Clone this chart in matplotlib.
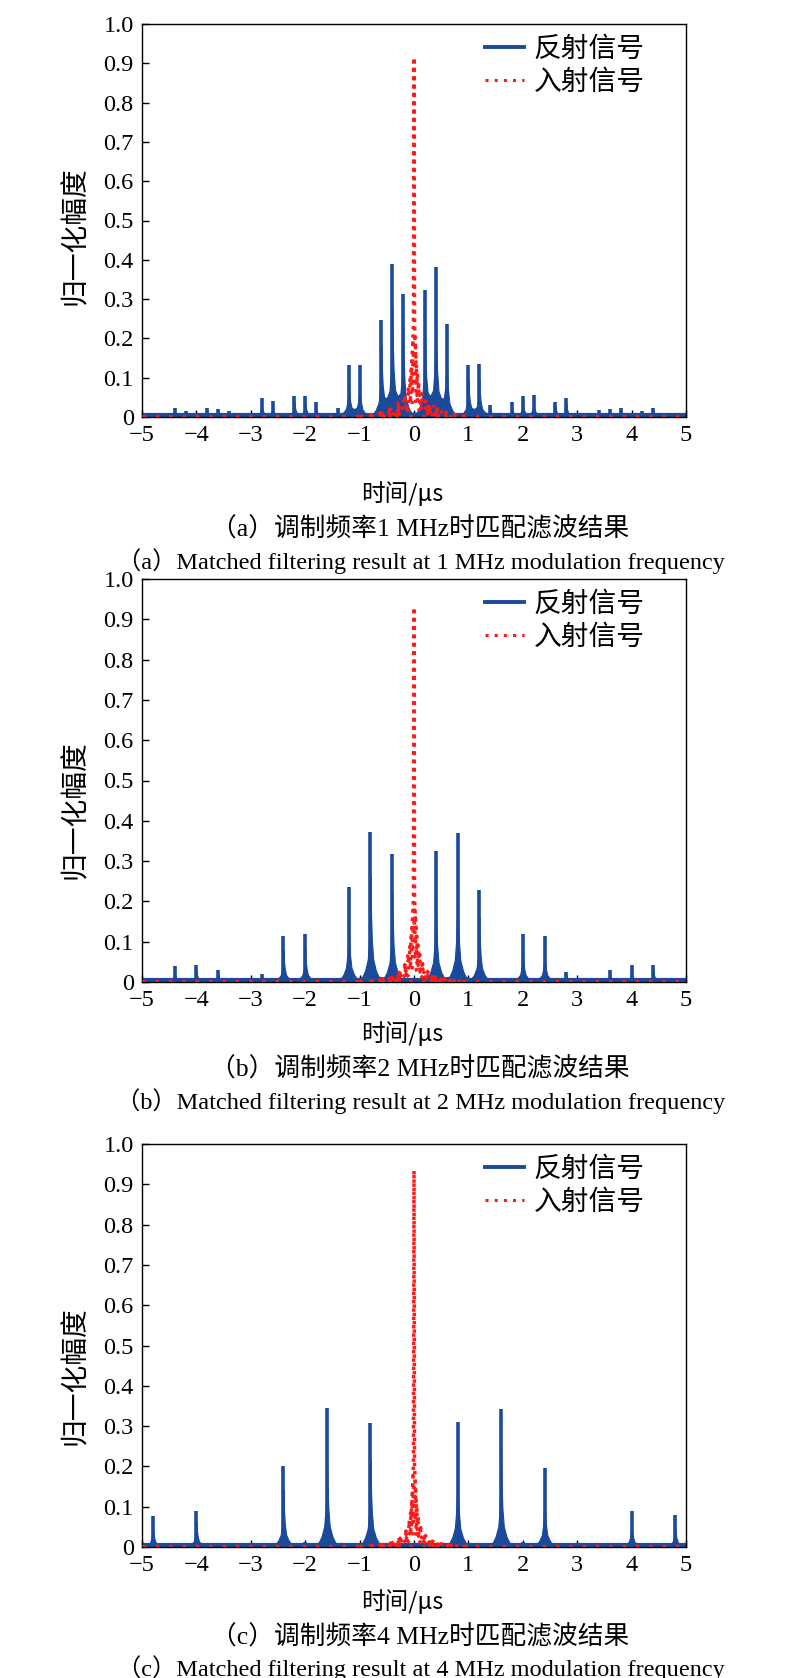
import numpy as np
import matplotlib
matplotlib.use('Agg')
import matplotlib.pyplot as plt
from matplotlib.lines import Line2D
from matplotlib.ticker import FixedLocator, FixedFormatter

# ---------------- data ----------------
x_ticks = [-5, -4, -3, -2, -1, 0, 1, 2, 3, 4, 5]
y_ticks = [0, 0.1, 0.2, 0.3, 0.4, 0.5, 0.6, 0.7, 0.8, 0.9, 1.0]
y_tick_labels = ['0', '0.1', '0.2', '0.3', '0.4', '0.5', '0.6', '0.7', '0.8', '0.9', '1.0']
legend_labels = ['反射信号', '入射信号']
x_label = '时间/μs'
y_label = '归一化幅度'
captions_cn = ['（a）调制频率1 MHz时匹配滤波结果',
               '（b）调制频率2 MHz时匹配滤波结果',
               '（c）调制频率4 MHz时匹配滤波结果']
captions_en = ['（a）Matched filtering result at 1 MHz modulation frequency',
               '（b）Matched filtering result at 2 MHz modulation frequency',
               '（c）Matched filtering result at 4 MHz modulation frequency']

# reflected signal peaks (time in us, normalized amplitude)
refl_t1 = [-4.4, -4.2, -3.8, -3.6, -3.4, -2.8, -2.6, -2.2, -2.0, -1.8, -1.4, -1.2, -1.0,
           -0.6, -0.4, -0.2, 0.2, 0.4, 0.6, 1.0, 1.2, 1.4, 1.8, 2.0, 2.2, 2.6, 2.8,
           3.4, 3.6, 3.8, 4.2, 4.4]
refl_h1 = [0.024, 0.015, 0.024, 0.020, 0.015, 0.049, 0.041, 0.054, 0.053, 0.037, 0.024,
           0.132, 0.132, 0.248, 0.389, 0.314, 0.324, 0.382, 0.236, 0.132, 0.134, 0.031,
           0.037, 0.053, 0.057, 0.037, 0.048, 0.019, 0.020, 0.024, 0.015, 0.024]

refl_t2 = [-4.4, -4.0, -3.6, -2.8, -2.4, -2.0, -1.2, -0.8, -0.4, 0.4, 0.8, 1.2,
           2.0, 2.4, 2.8, 3.6, 4.0, 4.4]
refl_h2 = [0.040, 0.041, 0.030, 0.021, 0.114, 0.119, 0.235, 0.373, 0.318, 0.324, 0.369,
           0.229, 0.119, 0.115, 0.026, 0.030, 0.042, 0.042]

refl_t3 = [-4.8, -4.0, -2.4, -2.0, -1.6, -0.8, 0.8, 1.6, 2.0, 2.4, 4.0, 4.8]
refl_h3 = [0.078, 0.090, 0.202, 0.012, 0.344, 0.307, 0.309, 0.342, 0.012, 0.197, 0.090, 0.079]

# incident signal: envelope of the central main lobe (one side, symmetric)
inc_env_t = [0.0, 0.01, 0.03, 0.06, 0.10, 0.15, 0.20, 0.30, 0.40]
inc_env_h1 = [0.915, 0.24, 0.15, 0.09, 0.06, 0.045, 0.040, 0.020, 0.005]
inc_env_h2 = [0.930, 0.21, 0.14, 0.09, 0.055, 0.035, 0.020, 0.010, 0.005]
inc_env_h3 = [0.934, 0.21, 0.12, 0.07, 0.045, 0.030, 0.018, 0.010, 0.005]

panels = [
    (refl_t1, refl_h1, inc_env_h1),
    (refl_t2, refl_h2, inc_env_h2),
    (refl_t3, refl_h3, inc_env_h3),
]

# ---------------- style ----------------
W, H = 800, 1678
BLUE = '#1b4a9b'
RED = '#ff1a1a'
SERIF = ['Liberation Serif', 'Noto Sans CJK SC']
CJK = ['Noto Sans CJK SC', 'Liberation Serif']
# spike base shape (relative offsets / fractions of the peak height)
_half_dx = np.array([0.25, 0.15, 0.1, 0.05, 0.025, 0.01, 0.004])
_half_fr = np.array([0.0, 0.035, 0.075, 0.15, 0.28, 0.45, 0.6])
SPIKE_DX = np.concatenate([-_half_dx, [0.0], _half_dx[::-1]])
SPIKE_FR = np.concatenate([_half_fr, [0.7], _half_fr[::-1]])
GRID = np.linspace(-5, 5, 8001)
# inner copies of the incident envelope: (height scale, width scale)
RED_COPIES = [(0.85, 1.5), (0.7, 0.9), (0.55, 2.0), (0.42, 1.2), (0.3, 2.5), (0.2, 1.6)]

# axes boxes in pixels: (left, right, top, bottom)
boxes = [(142, 686, 24, 417), (142, 686, 579, 982), (142, 686, 1144, 1547)]
text_y = [(494, 529, 561, 236), (1034, 1069, 1101, 810), (1602, 1637, 1668, 1376)]

fig = plt.figure(figsize=(W / 100, H / 100), dpi=100)


def fx(px):
    return px / W


def fy(py):
    return 1 - py / H


for i, ((rt, rh, env_h), (l, r, t, b)) in enumerate(zip(panels, boxes)):
    ax = fig.add_axes([fx(l), fy(b), fx(r) - fx(l), (b - t) / H])
    ax.set_xlim(-5, 5)
    ax.set_ylim(0, 1.0)

    # reflected signal
    base = np.zeros_like(GRID)
    for tt, hh in zip(rt, rh):
        base += np.interp(GRID, tt + SPIKE_DX, hh * SPIKE_FR, left=0, right=0)
    ax.fill_between(GRID, 0, base, color=BLUE, lw=0.8, ec=BLUE, zorder=2)
    ax.plot([-5, 5], [0.005, 0.005], color=BLUE, lw=3.0, solid_capstyle='butt', zorder=2)
    ax.vlines(rt, 0, rh, color=BLUE, lw=2.6, zorder=2)

    # incident signal
    et = np.array(inc_env_t)
    eh = np.array(env_h)
    xs = np.concatenate([-et[::-1], et[1:]])
    ys = np.concatenate([eh[::-1], eh[1:]])
    ax.plot([-5, 5], [0.002, 0.002], color=RED, lw=2.4, ls=(0, (1, 3)), zorder=3)
    ax.plot(xs, ys, color=RED, lw=2.5, ls=(0, (1, 1.4)), zorder=4)
    for s, w in RED_COPIES:
        xs2 = np.concatenate([-et[::-1][:-1], et[1:]]) * w
        ys2 = np.minimum(np.concatenate([eh[::-1][:-1], eh[1:]]) * s, eh[1] * s)
        ax.plot(xs2, ys2, color=RED, lw=2.4, ls=(0, (1, 1.8)), zorder=4)

    # axes styling
    ax.xaxis.set_major_locator(FixedLocator(x_ticks))
    ax.yaxis.set_major_locator(FixedLocator(y_ticks))
    ax.yaxis.set_major_formatter(FixedFormatter(y_tick_labels))
    ax.tick_params(direction='in', length=5, width=1, top=False, right=False,
                   labelsize=17.5, pad=6, colors='black')
    for lab in ax.get_xticklabels() + ax.get_yticklabels():
        lab.set_family(SERIF)
    for sp in ax.spines.values():
        sp.set_linewidth(1.0)
        sp.set_color('black')

    handles = [Line2D([], [], color=BLUE, lw=2.8),
               Line2D([], [], color=RED, lw=2.2, ls=(0, (1, 2)))]
    ax.legend(handles, legend_labels, loc='upper right',
              bbox_to_anchor=((645 - l) / (r - l), 1 - 10 / (b - t)),
              frameon=False, prop={'family': CJK, 'size': 20},
              handlelength=1.4, handletextpad=0.35, labelspacing=0.1,
              borderpad=0, borderaxespad=0)

    xl_y, cn_y, en_y, yl_y = text_y[i]
    fig.text(fx(402), fy(xl_y), x_label, ha='center', va='center',
             fontsize=17, family=CJK)
    fig.text(fx(420), fy(cn_y), captions_cn[i], ha='center', va='center',
             fontsize=18.5, family=SERIF)
    fig.text(fx(421), fy(en_y), captions_en[i], ha='center', va='center',
             fontsize=17.5, family=SERIF)
    fig.text(fx(75), fy(yl_y), y_label, ha='center', va='center',
             rotation=90, fontsize=20, family=CJK)

fig.savefig('out.png', dpi=100)
